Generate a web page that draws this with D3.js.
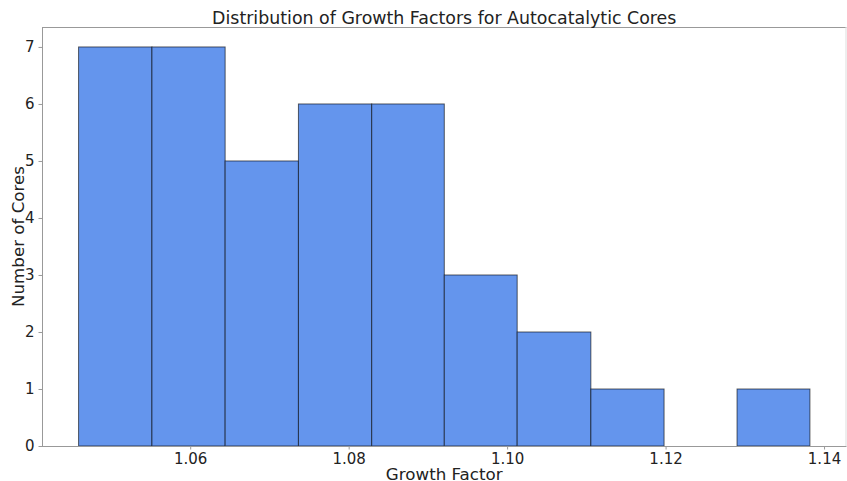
<!DOCTYPE html>
<html><head><meta charset="utf-8">
<script src="https://cdn.jsdelivr.net/npm/d3@7"></script>
<style>
html,body{margin:0;padding:0;background:#fff;}
svg text{font-family:"DejaVu Sans",sans-serif;fill:#222;}
</style></head>
<body><svg id="c" width="847" height="481"></svg>
<script>
const binEdges = [1.04591, 1.05517, 1.06441, 1.07366, 1.08291, 1.09207, 1.10127, 1.11057, 1.11981, 1.12902, 1.13822];
const counts = [7, 7, 5, 6, 6, 3, 2, 1, 0, 1];
const xTicks = [1.06, 1.08, 1.10, 1.12, 1.14];
const yTicks = [0, 1, 2, 3, 4, 5, 6, 7];
const title = "Distribution of Growth Factors for Autocatalytic Cores";
const xLabel = "Growth Factor";
const yLabel = "Number of Cores";

const bins = counts.map((c, i) => ({x0: binEdges[i], x1: binEdges[i + 1], count: c}));

const svg = d3.select("#c");
const L = 42, R = 846.5, T = 27, B = 446;
const span = binEdges[binEdges.length - 1] - binEdges[0];
const x = d3.scaleLinear()
  .domain([binEdges[0] - 0.05 * span, binEdges[binEdges.length - 1] + 0.05 * span])
  .range([L, R]);
const yMax = d3.max(counts) * 1.05;
const y = d3.scaleLinear().domain([0, yMax]).range([B, T]);

// bars
svg.append("g").selectAll("rect").data(bins.filter(d => d.count > 0)).join("rect")
  .attr("x", d => x(d.x0))
  .attr("y", d => y(d.count))
  .attr("width", d => x(d.x1) - x(d.x0))
  .attr("height", d => y(0) - y(d.count))
  .attr("fill", "#6495ED")
  .attr("stroke", "#000")
  .attr("stroke-opacity", 0.6)
  .attr("stroke-width", 1);

// spines
svg.append("line").attr("x1", L).attr("x2", R).attr("y1", T + 0.5).attr("y2", T + 0.5).attr("stroke", "#999");
svg.append("line").attr("x1", R - 0.5).attr("x2", R - 0.5).attr("y1", T).attr("y2", B).attr("stroke", "#ddd");

// axes
const xAxis = svg.append("g").attr("transform", `translate(0,${B})`)
  .call(d3.axisBottom(x).tickValues(xTicks).tickFormat(d3.format(".2f")).tickSizeOuter(0).tickSize(3.5).tickPadding(4));
const yAxis = svg.append("g").attr("transform", `translate(${L},0)`)
  .call(d3.axisLeft(y).tickValues(yTicks).tickFormat(d3.format("d")).tickSizeOuter(0).tickSize(3.5).tickPadding(4));
[xAxis, yAxis].forEach(g => {
  g.select(".domain").attr("stroke", "#999");
  g.selectAll(".tick line").attr("stroke", "#999");
  g.selectAll(".tick text").attr("font-size", 15).attr("fill", "#222");
});
xAxis.select(".domain").attr("d", `M${L},0.5H${R}`);
yAxis.select(".domain").attr("d", `M0.5,${T}V${B}`);

// labels
svg.append("text").attr("x", (L + R) / 2).attr("y", 24).attr("text-anchor", "middle")
  .attr("font-size", 17.4).text(title);
svg.append("text").attr("x", (L + R) / 2).attr("y", 479.5).attr("text-anchor", "middle")
  .attr("font-size", 16.7).text(xLabel);
svg.append("text").attr("transform", `translate(24,${(T + B) / 2}) rotate(-90)`).attr("text-anchor", "middle")
  .attr("font-size", 16.7).text(yLabel);
</script></body></html>
